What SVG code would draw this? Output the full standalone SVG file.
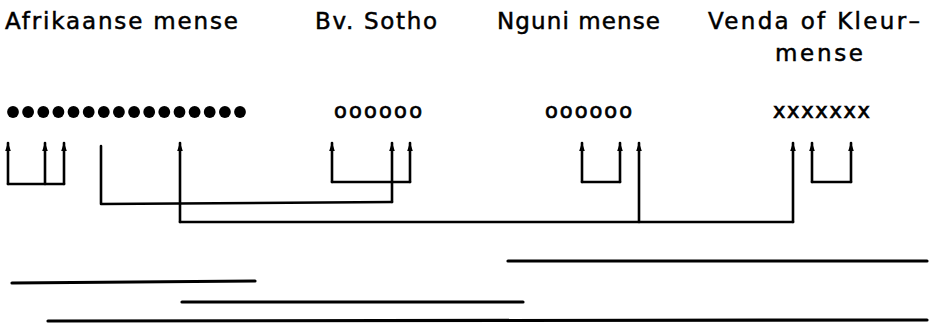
<svg xmlns="http://www.w3.org/2000/svg" width="935" height="325" viewBox="0 0 935 325">
<style>
.lbl{font-family:"DejaVu Sans","Liberation Sans",sans-serif;font-size:23px;fill:#000;stroke:#000;stroke-width:0.5}
.sym{font-family:"DejaVu Sans","Liberation Sans",sans-serif;font-size:21px;fill:#000;stroke:#000;stroke-width:0.7}
.c{fill:none;stroke:#000;stroke-width:2.6;stroke-linecap:round;stroke-linejoin:round}
.a{marker-end:url(#ah)}
.bar{fill:none;stroke:#000;stroke-width:3.2;stroke-linecap:round}
</style>
<defs>
<marker id="ah" markerUnits="userSpaceOnUse" markerWidth="9" markerHeight="8" viewBox="0 0 9 8" refX="8" refY="4" orient="auto">
<path d="M0,1.2 L8.5,4 L0,6.8 z" fill="#000"/>
</marker>
</defs>
<rect width="935" height="325" fill="#fff"/>
<g id="afrikaans">
<text class="lbl" x="5" y="29" textLength="233" lengthAdjust="spacing">Afrikaanse mense</text>
<g fill="#000">
<circle cx="13" cy="112" r="5.9"/><circle cx="28.1" cy="112" r="5.9"/><circle cx="43.3" cy="112" r="5.9"/><circle cx="58.4" cy="112" r="5.9"/>
<circle cx="73.5" cy="112" r="5.9"/><circle cx="88.7" cy="112" r="5.9"/><circle cx="103.8" cy="112" r="5.9"/><circle cx="118.9" cy="112" r="5.9"/>
<circle cx="134.1" cy="112" r="5.9"/><circle cx="149.2" cy="112" r="5.9"/><circle cx="164.3" cy="112" r="5.9"/><circle cx="179.5" cy="112" r="5.9"/>
<circle cx="194.6" cy="112" r="5.9"/><circle cx="209.7" cy="112" r="5.9"/><circle cx="224.9" cy="112" r="5.9"/><circle cx="240" cy="112" r="5.9"/>
</g>
</g>
<g id="sotho">
<text class="lbl" x="315" y="28.5" textLength="122" lengthAdjust="spacing">Bv. Sotho</text>
<text class="sym" x="334" y="118" textLength="88" lengthAdjust="spacing">oooooo</text>
</g>
<g id="nguni">
<text class="lbl" x="497" y="28.5" textLength="163" lengthAdjust="spacing">Nguni mense</text>
<text class="sym" x="545" y="118" textLength="87" lengthAdjust="spacing">oooooo</text>
</g>
<g id="venda">
<text class="lbl" x="708" y="28.5" textLength="212" lengthAdjust="spacing">Venda of Kleur–</text>
<text class="lbl" x="775" y="61" textLength="88" lengthAdjust="spacing">mense</text>
<text class="sym" x="773" y="118" textLength="97" lengthAdjust="spacing">xxxxxxx</text>
</g>
<g id="connectors">
<path class="c" d="M8,184 H64"/>
<path class="c a" d="M8,184 V143"/>
<path class="c a" d="M45,184 V143"/>
<path class="c a" d="M64,184 V143"/>
<path class="c" d="M101,146 V204 L392,202"/>
<path class="c a" d="M392,202 V143"/>
<path class="c" d="M332,182 H410"/>
<path class="c a" d="M332,182 V143"/>
<path class="c a" d="M410,182 V143"/>
<path class="c" d="M180,222 H793"/>
<path class="c a" d="M180,222 V143"/>
<path class="c a" d="M639,222 V143"/>
<path class="c a" d="M793,222 V143"/>
<path class="c" d="M582,182 H620"/>
<path class="c a" d="M582,182 V143"/>
<path class="c a" d="M620,182 V143"/>
<path class="c" d="M812,182 H851"/>
<path class="c a" d="M812,182 V143"/>
<path class="c a" d="M851,182 V143"/>
</g>
<g id="bars">
<path class="bar" d="M508,261 H927"/>
<path class="bar" d="M12,283 L255,281"/>
<path class="bar" d="M182,302 H523"/>
<path class="bar" d="M48,321 L927,320"/>
</g>
</svg>
